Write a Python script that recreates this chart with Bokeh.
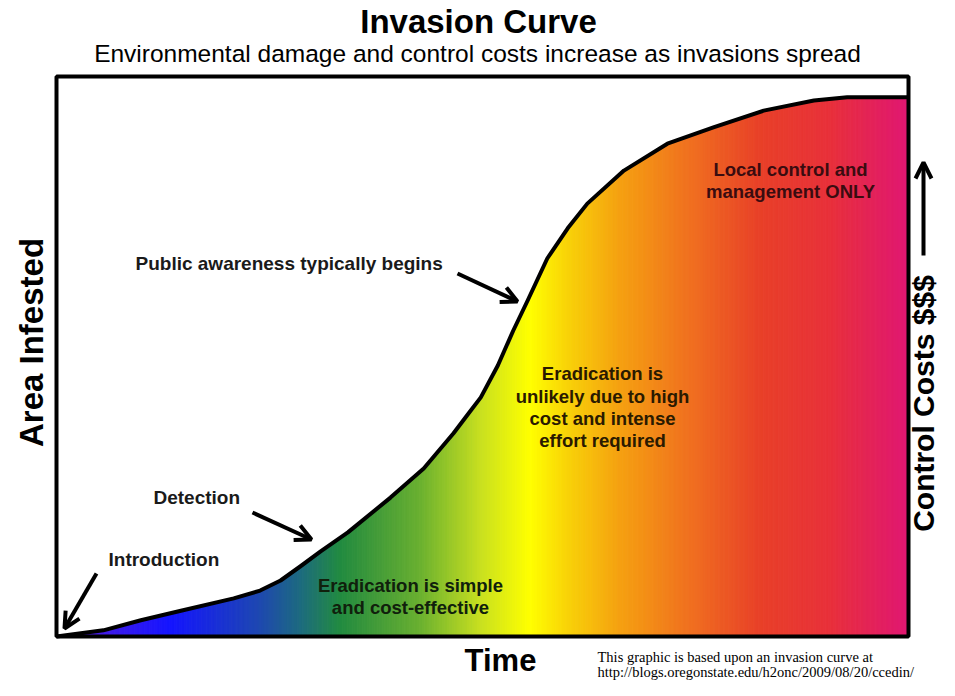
import numpy as np
from bokeh.plotting import figure
from bokeh.models import Range1d, Arrow, OpenHead
from bokeh.core.properties import value
from bokeh.embed import file_html
from bokeh.resources import INLINE

# ---- data (time 0..100, area infested 0..100 of the box) ----
time = [0, 5.5, 9.9, 14.6, 20.8, 23.9, 26.3, 28.6, 31.0, 34.2, 39.2, 43.1, 46.6,
        48.2, 49.8, 51.8, 53.6, 55.3, 57.6, 60.0, 62.3, 66.6, 71.7, 77.1, 83.0,
        88.9, 92.8, 96.7, 100]
area = [0, 1.1, 2.9, 4.6, 6.8, 8.2, 10.0, 12.5, 15.2, 18.6, 24.8, 30.0, 36.3,
        39.5, 42.7, 48.4, 54.6, 60.0, 67.5, 72.9, 77.3, 83.2, 88.0, 90.9, 93.9,
        95.7, 96.3, 96.3, 96.3]

title_text = "Invasion Curve"
subtitle_text = "Environmental damage and control costs increase as invasions spread"
x_label = "Time"
y_label = "Area Infested"
right_label = "Control Costs $$$"
stage_labels = ["Introduction", "Detection", "Public awareness typically begins"]
zone_simple = ["Eradication is simple", "and cost-effective"]
zone_unlikely = ["Eradication is", "unlikely due to high", "cost and intense", "effort required"]
zone_local = ["Local control and", "management ONLY"]
footnote = ["This graphic is based upon an invasion curve at",
            "http://blogs.oregonstate.edu/h2onc/2009/08/20/ccedin/"]

# ---- style: colour gradient stops along time ----
grad_t = [0.5, 13.4, 23.9, 28.6, 33.3, 42.7, 49.8, 55.6, 60.3, 66.2, 74.4, 82.6, 90.8, 99.6]
grad_c = ["#6020d8", "#1414ff", "#1e48b0", "#1d6a80", "#218a40", "#6ab030", "#c8e020",
          "#ffff00", "#f8d008", "#f5a010", "#f07020", "#e84028", "#e8303a", "#e01870"]

# picture-pixel -> data helpers (for annotation placement only)
def X(px):
    return (px - 56) / 852 * 100

def Y(py):
    return (636 - py) / 560 * 100

W, H = 939, 680
p = figure(width=W, height=H, output_backend="svg", toolbar_location=None,
           x_range=Range1d(X(0), X(W)), y_range=Range1d(Y(H), Y(0)),
           x_axis_type=None, y_axis_type=None, min_border=0)
p.grid.visible = False
p.outline_line_color = None
p.background_fill_color = "white"
p.border_fill_color = "white"

# gradient fill under the curve
rgbs = [tuple(int(c[i:i + 2], 16) for i in (1, 3, 5)) for c in grad_c]
N = 340
edges = np.linspace(0, 100, N + 1)
xs, ys, cols = [], [], []
for i in range(N):
    x0, x1 = edges[i], edges[i + 1]
    y0, y1 = np.interp([x0, x1], time, area)
    xs.append([x0, x0, x1, x1])
    ys.append([0, y0, y1, 0])
    xm = (x0 + x1) / 2
    rgb = [int(round(np.interp(xm, grad_t, [c[k] for c in rgbs]))) for k in range(3)]
    cols.append("#%02x%02x%02x" % tuple(rgb))
p.patches(xs, ys, fill_color=cols, line_color=cols, line_width=1)

# curve
p.line(time, area, line_color="black", line_width=4, line_join="round")

# box
p.quad(left=[0], right=[100], bottom=[0], top=[100], fill_color=None,
       line_color="black", line_width=4)

font = value("Liberation Sans")

def txt(x, y, t, size, style="bold", align="center", angle=0, color="black", fnt=font):
    p.text(x=x, y=y, text=t, text_font=fnt, text_font_size=size,
           text_font_style=style, text_align=align, text_baseline="middle",
           angle=angle, text_color=color)

# titles
txt([X(478)], [Y(21)], [title_text], "33px")
txt([X(477)], [Y(53)], [subtitle_text], "24.5px", style="normal")
txt([X(500)], [Y(660)], [x_label], "31px")
txt([X(31)], [Y(342)], [y_label], "33px", angle=np.pi / 2)
txt([X(923)], [Y(403)], [right_label], "30px", angle=np.pi / 2)

# stage labels
txt([X(108)], [Y(559)], [stage_labels[0]], "19px", align="left", color="#1a1a1a")
txt([X(153)], [Y(497)], [stage_labels[1]], "19px", align="left", color="#1a1a1a")
txt([X(135)], [Y(263)], [stage_labels[2]], "19px", align="left", color="#1a1a1a")

# zone labels
txt([X(410)] * 2, [Y(585), Y(607)], zone_simple, "18.5px", color="#10200c")
txt([X(602)] * 4, [Y(373), Y(396), Y(418), Y(440)], zone_unlikely, "18.5px", color="#2a1a00")
txt([X(790)] * 2, [Y(169), Y(191)], zone_local, "18.5px", color="#3a0c10")

# footnote
txt([X(597)] * 2, [Y(656), Y(671)], footnote, "14.5px", style="normal", align="left",
    fnt=value("Liberation Serif"))

# arrows
def arrow(x0, y0, x1, y1):
    p.add_layout(Arrow(x_start=X(x0), y_start=Y(y0), x_end=X(x1), y_end=Y(y1),
                       line_width=4, line_color="black",
                       end=OpenHead(size=16, line_width=4, line_color="black")))

arrow(96, 573, 64, 628)
arrow(252, 512, 311, 539)
arrow(457, 273, 517, 301)
arrow(923, 255, 923, 162)

open("out.html", "w").write(file_html(p, INLINE))
